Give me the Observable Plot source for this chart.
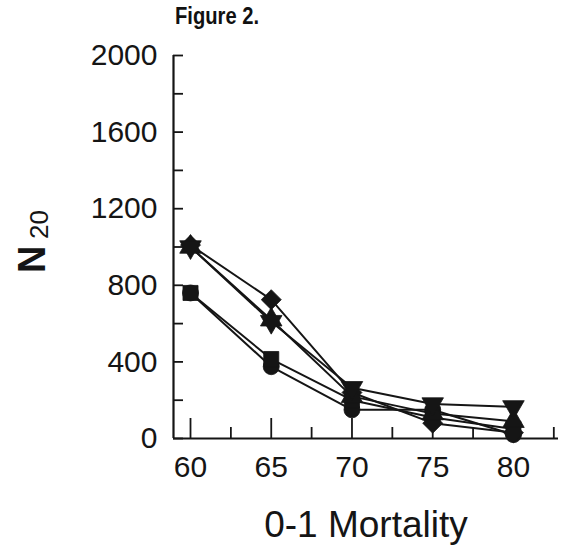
<!DOCTYPE html>
<html><head><meta charset="utf-8">
<script src="https://cdn.jsdelivr.net/npm/d3@7"></script>
<script src="https://cdn.jsdelivr.net/npm/@observablehq/plot@0.6"></script>
<style>
body{margin:0;background:#fff;}
#wrap{position:relative;width:564px;height:556px;}
#title{position:absolute;left:175px;top:2px;font:bold 24px "Liberation Sans",Arial,sans-serif;color:#111;transform:scaleX(0.84);transform-origin:left top;white-space:nowrap;}
svg{display:block;}
</style></head><body><div id="wrap"><div id="title">Figure 2.</div></div>
<script>
// 0-1 mortality (%) on x
const mortality = [60, 65, 70, 75, 80];
// N20 per series (marker shape)
const circleSeries   = [760, 375, 150, 150, 20];
const squareSeries   = [760, 415, 200, 110, 50];
const diamondSeries  = [1010, 725, 240, 80, 30];
const triUpSeries    = [1000, 620, 220, 130, 90];
const triDownSeries  = [1000, 610, 265, 180, 165];
const yLabelTicks = [0, 400, 800, 1200, 1600, 2000];
const yAllTicks = [0, 200, 400, 600, 800, 1000, 1200, 1400, 1600, 1800, 2000];
const xMajorTicks = [60, 65, 70, 75, 80];
const xMinorTicks = [62.5, 67.5, 72.5, 77.5, 82.5];

const seriesDefs = [
  {name: "circle", values: circleSeries, symbol: "circle", r: 8, rotate: 0},
  {name: "square", values: squareSeries, symbol: "square", r: 8.5, rotate: 0},
  {name: "diamond", values: diamondSeries, symbol: "diamond2", r: 9, rotate: 0},
  {name: "triUp", values: triUpSeries, symbol: "triangle", r: 8, rotate: 0},
  {name: "triDown", values: triDownSeries, symbol: "triangle", r: 8, rotate: 180}
];
const rows = seriesDefs.flatMap(s => mortality.map((m, i) => ({series: s.name, x: m, n: s.values[i]})));

const W = 564, H = 556, ML = 173, MR = 6, MT = 55, MB = 118;
const innerW = W - ML - MR, innerH = H - MT - MB;
const ink = "#151515";
const font = "'Liberation Sans', Arial, sans-serif";

const chart = Plot.plot({
  width: W, height: H,
  marginLeft: ML, marginRight: MR, marginTop: MT, marginBottom: MB,
  style: {fontFamily: font, color: ink, background: "#fff"},
  x: {domain: [58.947, 82.79], axis: null},
  y: {domain: [0, 2000], axis: null},
  marks: [
    Plot.axisY(yLabelTicks, {anchor: "left", tickSize: 0, tickPadding: 16, fontSize: 30, label: null, tickFormat: d => String(d)}),
    Plot.axisX(xMajorTicks, {anchor: "bottom", tickSize: 0, tickPadding: 17, fontSize: 30, label: null, tickFormat: d => String(d)}),
    Plot.ruleY(yAllTicks, {stroke: ink, strokeWidth: 1.8, insetRight: innerW - 10}),
    Plot.ruleX(xMajorTicks, {stroke: ink, strokeWidth: 1.8, insetTop: innerH - 20}),
    Plot.ruleX(xMinorTicks, {stroke: ink, strokeWidth: 1.8, insetTop: innerH - 11}),
    Plot.ruleX([58.947], {stroke: ink, strokeWidth: 2.2}),
    Plot.ruleY([0], {stroke: ink, strokeWidth: 2.2}),
    Plot.line(rows, {x: "x", y: "n", z: "series", stroke: ink, strokeWidth: 2}),
    ...seriesDefs.map(s => Plot.dot(rows.filter(d => d.series === s.name), {
      x: "x", y: "n", symbol: () => s.symbol, r: s.r, rotate: s.rotate, fill: ink, stroke: ink, strokeWidth: 0.8
    })),
    Plot.text(["0-1 Mortality"], {frameAnchor: "bottom", dy: 98, fontSize: 37, fill: ink}),
    Plot.text(["N"], {frameAnchor: "left", rotate: -90, dx: -141, dy: 26, fontSize: 38, fontWeight: "bold", fill: ink}),
    Plot.text(["20"], {frameAnchor: "left", rotate: -90, dx: -134, dy: -8, fontSize: 26, fill: ink})
  ]
});
document.getElementById("wrap").appendChild(chart);
</script></body></html>
